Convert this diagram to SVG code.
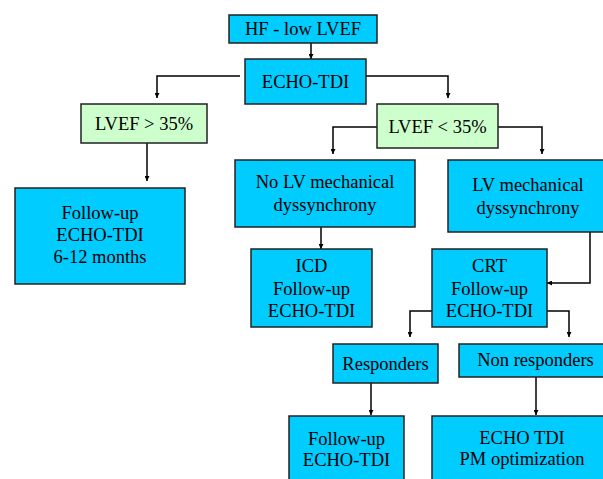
<svg xmlns="http://www.w3.org/2000/svg" width="603" height="479" viewBox="0 0 603 479" font-family="'Liberation Serif', 'Times New Roman', serif">
<style>
.b{fill:#00CCFF;stroke:#222;stroke-width:1.5}
.g{fill:#CCFFCC;stroke:#222;stroke-width:1.5}
.t{font-family:'Liberation Serif',serif;font-size:18.5px;fill:#000;text-anchor:middle}
.c{fill:none;stroke:#000;stroke-width:1.5}
</style>
<defs>
<marker id="a" viewBox="0 0 10 10" refX="10" refY="5" markerWidth="5" markerHeight="5" orient="auto" markerUnits="userSpaceOnUse">
<path d="M0,0 L10,5 L0,10 z" fill="#000"/>
</marker>
</defs>
<rect width="603" height="479" fill="#fff"/>
<g id="connectors">
<path class="c" d="M311,43 V59" marker-end="url(#a)"/>
<path class="c" d="M240,76 H157 V98" marker-end="url(#a)"/>
<path class="c" d="M366,76 H448 V98" marker-end="url(#a)"/>
<path class="c" d="M147,143 V181" marker-end="url(#a)"/>
<path class="c" d="M377,127 H333 V154" marker-end="url(#a)"/>
<path class="c" d="M498,127 H542 V154" marker-end="url(#a)"/>
<path class="c" d="M321,227 V249" marker-end="url(#a)"/>
<path class="c" d="M590,232 V283 H547" marker-end="url(#a)"/>
<path class="c" d="M432,311 H410 V337" marker-end="url(#a)"/>
<path class="c" d="M547,311 H569 V337" marker-end="url(#a)"/>
<path class="c" d="M371,383 V415" marker-end="url(#a)"/>
<path class="c" d="M536,377 V415" marker-end="url(#a)"/>
</g>
<g class="t">
<g id="hf"><rect class="b" x="229" y="15" width="148" height="28"/><text x="303" y="35">HF - low LVEF</text></g>
<g id="echo"><rect class="b" x="245" y="59" width="121" height="45"/><text x="305.5" y="87.5">ECHO-TDI</text></g>
<g id="lvefgt"><rect class="g" x="81" y="104" width="126" height="39"/><text x="144" y="130">LVEF &gt; 35%</text></g>
<g id="lveflt"><rect class="g" x="377" y="104" width="121" height="44"/><text x="437.5" y="132.5">LVEF &lt; 35%</text></g>
<g id="followup1"><rect class="b" x="15" y="188" width="170" height="96"/><text x="100" y="219">Follow-up</text><text x="100" y="241">ECHO-TDI</text><text x="100" y="263">6-12 months</text></g>
<g id="nolv"><rect class="b" x="235" y="160" width="180" height="67"/><text x="325" y="187.5">No LV mechanical</text><text x="325" y="210.5">dyssynchrony</text></g>
<g id="lvmech"><rect class="b" x="448" y="160" width="160" height="72"/><text x="528" y="190.5">LV mechanical</text><text x="528" y="213.5">dyssynchrony</text></g>
<g id="icd"><rect class="b" x="251" y="249" width="121" height="78"/><text x="311.5" y="272">ICD</text><text x="311.5" y="294.5">Follow-up</text><text x="311.5" y="317">ECHO-TDI</text></g>
<g id="crt"><rect class="b" x="432" y="249" width="115" height="78"/><text x="489.5" y="272">CRT</text><text x="489.5" y="294.5">Follow-up</text><text x="489.5" y="317">ECHO-TDI</text></g>
<g id="responders"><rect class="b" x="333" y="344" width="105" height="39"/><text x="385.5" y="369.5">Responders</text></g>
<g id="nonresponders"><rect class="b" x="459" y="344" width="150" height="33"/><text x="535.5" y="366">Non responders</text></g>
<g id="followup2"><rect class="b" x="289" y="416" width="115" height="70"/><text x="346.5" y="445">Follow-up</text><text x="346.5" y="466">ECHO-TDI</text></g>
<g id="pmopt"><rect class="b" x="432" y="416" width="180" height="70"/><text x="522" y="444">ECHO TDI</text><text x="522" y="465">PM optimization</text></g>
</g>
</svg>
